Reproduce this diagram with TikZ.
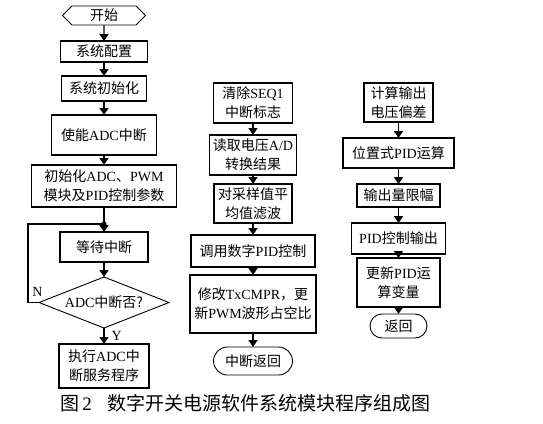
\documentclass[tikz,border=0pt]{standalone}
\usepackage{fontspec}
\setmainfont{Noto Sans CJK SC}
\newfontfamily\lat{Liberation Serif}
\newcommand{\EN}[1]{{\lat #1}}
\usepackage{tikz}
\usetikzlibrary{
  arrows.meta,
  positioning,
  shapes.geometric,
  shapes.misc,
  shapes.symbols
}
\newcommand{\flowfont}{\fontsize{14}{19}\selectfont}
\newcommand{\capfont}{\fontsize{19}{21}\selectfont}
\tikzset{
  procbox/.style={draw=black,line width=1.8pt,inner sep=0pt,outer sep=0pt,align=center,font=\flowfont},
  startnode/.style={draw=black,line width=0.9pt,signal,signal to=west and east,inner sep=0pt,outer sep=0pt,minimum width=83pt,minimum height=19pt,font=\flowfont},
  termnode/.style={draw=black,line width=0.9pt,rounded rectangle,inner sep=0pt,outer sep=0pt,font=\flowfont},
  decnode/.style={draw=black,line width=0.9pt,diamond,aspect=2.55,inner sep=0pt,outer sep=0pt,minimum width=130pt,minimum height=51pt,font=\flowfont},
  joindot/.style={circle,fill=black,inner sep=0pt,outer sep=0pt,minimum size=5pt},
  flowline/.style={line width=1.4pt,draw=black},
  flowarrow/.style={-{Triangle[length=7pt,width=9pt]},line width=1.4pt,draw=black},
  lbl/.style={inner sep=0pt,font=\flowfont\lat}
}
\begin{document}
\begin{tikzpicture}[x=1pt,y=1pt,node distance=14pt]
\useasboundingbox (0,0) rectangle (543,-423);
% main program
\node[startnode] (start) at (104,-15.5) {开始};
\node[procbox, minimum width=87pt, minimum height=21pt, below=16pt of start] (cfg) {系统配置};
\node[procbox, minimum width=85pt, minimum height=25pt, below=14pt of cfg] (sysinit) {系统初始化};
\node[procbox, minimum width=105pt, minimum height=40pt, below=14pt of sysinit] (adcen) {使能\EN{ADC}中断};
\node[procbox, minimum width=145pt, minimum height=42pt, below=10pt of adcen] (parinit) {初始化\EN{ADC}、\EN{PWM}\\模块及\EN{PID}控制参数};
\node[joindot, below=14.5pt of parinit] (join) {};
\node[procbox, minimum width=88pt, minimum height=30pt, below=5.5pt of join] (wait) {等待中断};
\node[decnode, below=15pt of wait] (adcq) {\EN{ADC}中断否?};
\node[procbox, minimum width=90pt, minimum height=44pt, below=16pt of adcq] (isr) {执行\EN{ADC}中\\断服务程序};

% interrupt service routine
\node[procbox, minimum width=79pt, minimum height=40pt] (clrflag) at (253,-103) {清除\EN{SEQ1}\\中断标志};
\node[procbox, minimum width=87pt, minimum height=40pt, below=12pt of clrflag] (readad) {读取电压\EN{A/D}\\转换结果};
\node[procbox, minimum width=78pt, minimum height=39pt, below=9pt of readad] (avgfilt) {对采样值平\\均值滤波};
\node[procbox, minimum width=124pt, minimum height=32pt, below=12pt of avgfilt] (callpid) {调用数字\EN{PID}控制};
\node[procbox, minimum width=126pt, minimum height=58pt, below=8pt of callpid] (modcmp) {修改\EN{TxCMPR}，更\\新\EN{PWM}波形占空比};
\node[termnode, minimum width=79pt, minimum height=28pt, below=14pt of modcmp] (iret) {中断返回};

% PID subroutine
\node[procbox, minimum width=69pt, minimum height=39pt] (calcerr) at (398.5,-102.5) {计算输出\\电压偏差};
\node[procbox, minimum width=111pt, minimum height=30pt, below=16pt of calcerr] (pospid) {位置式\EN{PID}运算};
\node[procbox, minimum width=83pt, minimum height=23pt, below=16pt of pospid] (limit) {输出量限幅};
\node[procbox, minimum width=94pt, minimum height=31pt, below=16pt of limit] (pidout) {\EN{PID}控制输出};
\node[procbox, minimum width=83pt, minimum height=49pt, below=4pt of pidout] (update) {更新\EN{PID}运\\算变量};
\node[termnode, minimum width=57pt, minimum height=24pt, below=7pt of update] (ret) {返回};

\node[anchor=west, inner sep=0pt, font=\capfont] (caption) at (60,-403) {图\,\EN{2}\hspace{16pt}数字开关电源软件系统模块程序组成图};

\draw[flowarrow] (start) -- (cfg);
\draw[flowarrow] (cfg) -- (sysinit);
\draw[flowarrow] (sysinit) -- (adcen);
\draw[flowarrow] (adcen) -- (parinit);
\draw[flowline] (parinit) -- (join);
\draw[flowarrow] (join) -- (wait);
\draw[flowarrow] (wait) -- (adcq);
\draw[flowarrow] (adcq) -- node[lbl, right=7pt]{Y} (isr);
\draw[flowline] (adcq.west) -- node[lbl, above=5pt, pos=0.15]{N} ++(-11,0) |- (join);

\draw[flowarrow] (clrflag) -- (readad);
\draw[flowarrow] (readad) -- (avgfilt);
\draw[flowarrow] (avgfilt) -- (callpid);
\draw[flowarrow] (callpid) -- (modcmp);
\draw[flowarrow] (modcmp) -- (iret);

\draw[flowarrow] (calcerr) -- (pospid);
\draw[flowarrow] (pospid) -- (limit);
\draw[flowarrow] (limit) -- (pidout);
\draw[flowarrow] (pidout) -- (update);
\draw[flowarrow] (update) -- (ret);
\end{tikzpicture}
\end{document}
